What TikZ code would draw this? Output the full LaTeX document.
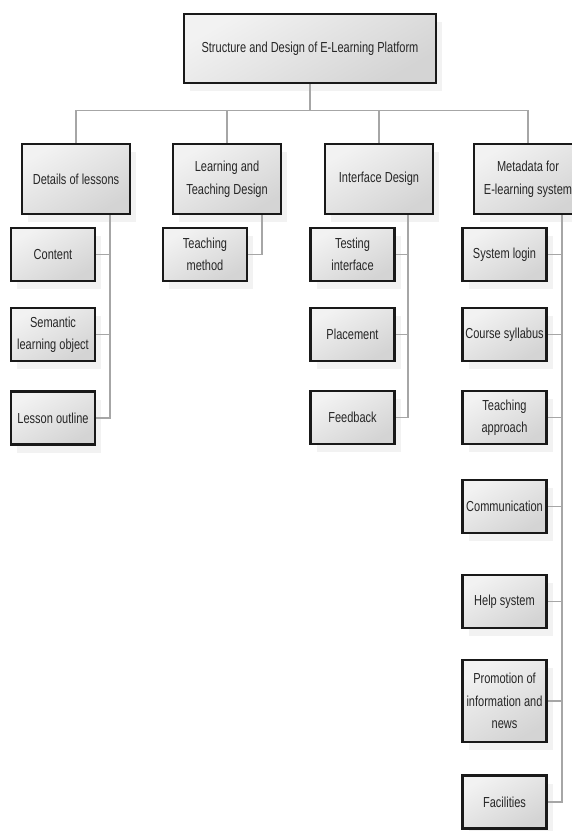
\documentclass[tikz,border=0pt]{standalone}
\usepackage{fontspec}
\setmainfont[FakeStretch=0.76]{Liberation Sans}
\usetikzlibrary{shadows}

\begin{document}
\begin{tikzpicture}[x=1pt, y=-1pt,
		box/.style={draw=black!90, line width=2.6pt, rectangle, align=center, text=black!85,
			font=\fontsize{14.5}{22.5}\selectfont, top color=gray!10, bottom color=gray!34, shading angle=30,
			drop shadow={shadow xshift=6pt, shadow yshift=-8pt, fill=gray!20}},
		topbox/.style={box, minimum width=252pt, minimum height=69pt},
		mainbox/.style={box, minimum width=108pt, minimum height=70pt, inner sep=1pt},
		subbox/.style={box, minimum width=84pt, minimum height=53pt, inner sep=1pt},
		link/.style={draw=gray!70, line width=1.3pt}]
		
		\useasboundingbox (0,0) rectangle (572,831);
		
		% Nodes
		\node[topbox] (root) at (310,48.5) {Structure and Design of E-Learning Platform};
		
		\node[mainbox] (det) at (76,179) {Details of lessons};
		\node[mainbox] (ltd) at (227,179) {Learning and\\Teaching Design};
		\node[mainbox] (ifd) at (379,179) {Interface Design};
		\node[mainbox] (meta) at (528,179) {Metadata for\\E-learning system};
		
		\node[subbox] (cont) at (53,254.5) {Content};
		\node[subbox] (sem) at (53,334.5) {Semantic\\learning object};
		\node[subbox] (outl) at (53,418) {Lesson outline};
		
		\node[subbox] (tmeth) at (205,254.5) {Teaching\\method};
		
		\node[subbox] (test) at (352.5,254.5) {Testing\\interface};
		\node[subbox] (place) at (352.5,334.5) {Placement};
		\node[subbox] (feed) at (352.5,417.5) {Feedback};
		
		\node[subbox] (login) at (504.5,254.5) {System login};
		\node[subbox] (syll) at (504.5,334.5) {Course syllabus};
		\node[subbox] (appr) at (504.5,417.5) {Teaching\\approach};
		\node[subbox] (comm) at (504.5,506.5) {Communication};
		\node[subbox] (help) at (504.5,601.5) {Help system};
		\node[subbox, minimum height=82pt] (promo) at (504.5,701) {Promotion of\\information and\\news};
		\node[subbox] (facil) at (504.5,802) {Facilities};
		
		% Links
		\foreach \b in {det,ltd,ifd,meta}
			\draw[link] (root.south) -- ++(0,26) -| (\b.north);
		
		\foreach \c in {cont,sem,outl}
			\draw[link] (det.south) ++(34,0) |- (\c.east);
		
		\draw[link] (ltd.south) ++(35,0) |- (tmeth.east);
		
		\foreach \c in {test,place,feed}
			\draw[link] (ifd.south) ++(29,0) |- (\c.east);
		
		\foreach \c in {login,syll,appr,comm,help,promo,facil}
			\draw[link] (meta.south) ++(34,0) |- (\c.east);
		
	\end{tikzpicture}
\end{document}
